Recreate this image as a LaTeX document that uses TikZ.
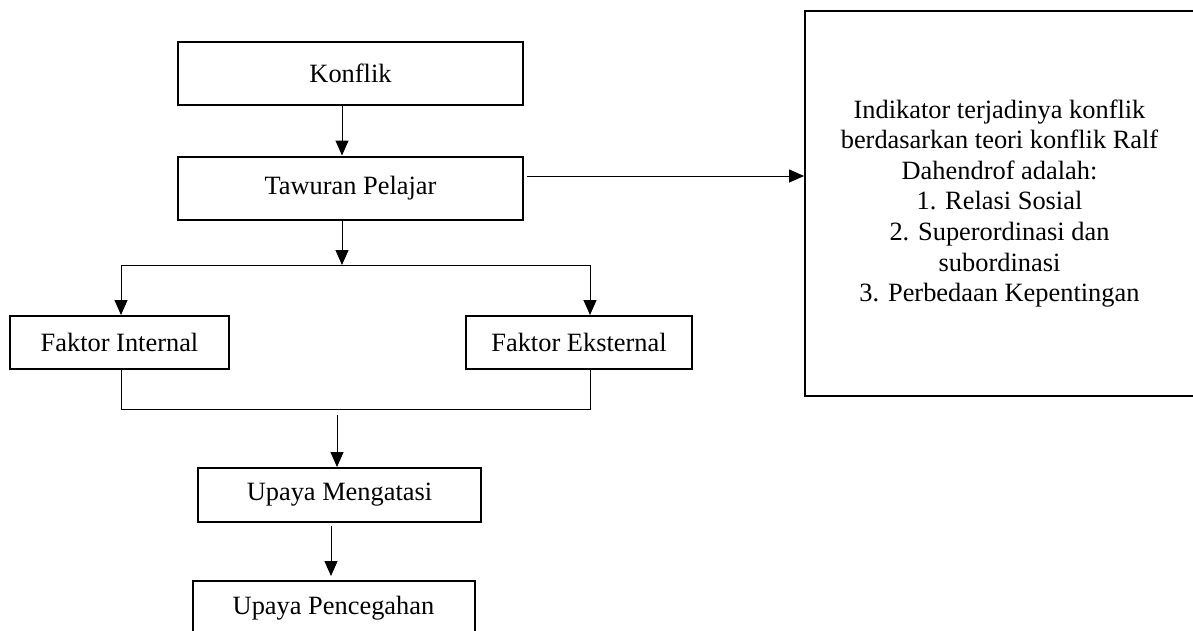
\documentclass[tikz,border=0pt]{standalone}
\usepackage{fontspec}
\setmainfont{Liberation Serif}
\usepackage{tikz}
\usetikzlibrary{arrows}
\usetikzlibrary{arrows.meta}
\usetikzlibrary{shapes}

\begin{document}
\begin{tikzpicture}[x=0.5pt, y=-0.5pt, node distance=57.25pt, >={Triangle[length=7.5pt, width=6.5pt]}, line width=0.5pt,
    box/.style={draw, rectangle, line width=1pt, inner sep=0pt, minimum height=31.5pt, font=\fontsize{13.2}{15.3}\selectfont}]
        \path[use as bounding box, clip] (0,0) rectangle (1193,631);

        % Nodes for stages
        \node[box, minimum width=172.5pt] (Konflik) at (350.5,73.5) {Konflik};
        \node[box, minimum width=172.5pt, below of=Konflik] (Tawuran) {Tawuran Pelajar};
        \node[box, minimum width=109.5pt, minimum height=26.5pt] (Internal) at (119.5,342.5) {Faktor Internal};
        \node[box, minimum width=113pt, minimum height=26.5pt] (Eksternal) at (579,342.5) {Faktor Eksternal};
        \node[box, minimum width=141.5pt, minimum height=27pt] (Mengatasi) at (339.5,495) {Upaya Mengatasi};
        \node[box, minimum width=141pt, minimum height=27pt, below of=Mengatasi, node distance=56.5pt, xshift=-3pt] (Pencegahan) {Upaya Pencegahan};
        \node[box, minimum width=194.5pt, minimum height=192.5pt, align=center] (Indikator) at (999.5,203.5)
            {Indikator terjadinya konflik\\ berdasarkan teori konflik Ralf\\ Dahendrof adalah:\\ 1. Relasi Sosial\\ 2. Superordinasi dan\\ subordinasi\\ 3. Perbedaan Kepentingan};

        % Points for branches
        \coordinate (split) at (342,265);
        \coordinate (bl) at (121,265);
        \coordinate (br) at (590,265);
        \coordinate (ml) at (121,409);
        \coordinate (mr) at (590,409);
        \coordinate (mid) at (337,415);
        \coordinate (tr) at (527,176);
        \coordinate (pm) at (331,526);

        % Edges for flow
        \draw[->] (Konflik.south -| split) -- (Tawuran.north -| split);
        \draw[->] (Tawuran.south -| split) -- (split);
        \draw (bl) -- (br);
        \draw[->] (bl) -- (bl |- Internal.north);
        \draw[->] (br) -- (br |- Eksternal.north);
        \draw (bl |- Internal.south) -- (ml) -- (mr) -- (br |- Eksternal.south);
        \draw[->] (mid) -- (mid |- Mengatasi.north);
        \draw[->, shorten >=2pt] (pm) -- (pm |- Pencegahan.north);
        \draw[->] (tr) -- (tr -| Indikator.west);
    \end{tikzpicture}
\end{document}
